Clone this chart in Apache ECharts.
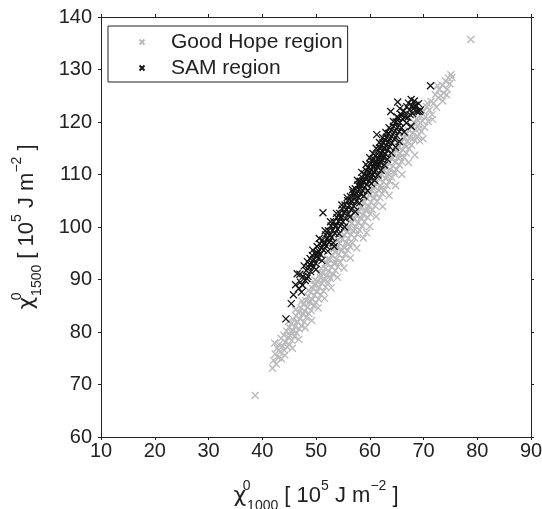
<!DOCTYPE html>
<html>
<head>
<meta charset="utf-8">
<script src="https://cdn.jsdelivr.net/npm/echarts@6/dist/echarts.min.js"></script>
<style>
html,body{margin:0;padding:0;background:#fff;}
#chart{width:542px;height:509px;}
</style>
</head>
<body>
<div id="chart"></div>
<script>
// ---- data ----
const seriesNames = ['Good Hope region', 'SAM region'];
const xRange = [10, 90, 10];
const yRange = [60, 140, 10];

const goodHope = [
[41.9,73.1],[42.1,74.6],[42.3,77.9],[42.4,75.8],[42.6,73.9],[42.8,76.9],[43.0,75.1],[43.1,77.6],[43.3,76.2],[43.5,78.8],[43.6,74.9],[43.8,77.3],[44.0,79.4],[44.1,76.5],[44.3,78.1],[44.5,80.2],[44.6,77.2],[44.8,79.0],
[45.0,80.9],[45.1,77.6],[45.2,79.3],[45.4,81.6],[45.5,78.4],[45.7,80.3],[45.8,82.4],[46.0,79.1],[46.1,81.0],[46.3,83.1],[46.4,79.8],[46.6,81.9],[46.7,83.7],[46.9,80.6],[47.0,82.5],[47.2,84.6],[47.3,81.2],[47.5,83.4],[47.6,85.3],[47.8,81.9],[47.9,84.0],[48.1,86.0],[48.2,82.8],[48.4,84.7],[48.5,86.8],[48.7,83.5],[48.8,85.6],[49.0,87.5],[49.1,84.1],[49.3,86.2],[49.4,88.3],[49.6,85.0],[49.7,87.0],[49.9,89.1],[50.0,85.6],[50.2,87.6],[50.3,89.6],[50.5,86.3],[50.6,88.5],[50.8,90.4],[50.9,87.1],
[51.1,89.3],[51.2,91.2],[51.4,87.8],[51.5,90.1],[51.7,92.0],[51.8,88.6],[52.0,90.7],[52.1,92.9],[52.3,89.4],[52.4,91.6],[52.6,93.8],[52.7,90.2],[52.9,92.4],[53.0,94.5],[53.2,91.0],[53.3,93.1],[53.5,95.3],[53.6,91.7],[53.8,93.9],[53.9,96.0],[54.1,92.4],[54.2,94.8],[54.4,96.9],[54.5,93.3],[54.7,95.5],[54.8,97.6],[55.0,94.0],[55.1,96.2],[55.3,98.4],[55.4,94.8],[55.6,97.1],[55.7,99.1],[55.9,95.6],[56.0,97.8],[56.2,99.9],[56.3,96.3],[56.5,98.6],[56.6,100.7],[56.8,97.0],[56.9,99.3],
[57.1,101.4],[57.2,97.9],[57.4,100.1],[57.5,102.2],[57.7,98.6],[57.8,100.8],[58.0,103.0],[58.1,99.4],[58.3,101.7],[58.4,103.8],[58.6,100.2],[58.7,102.4],[58.9,104.6],[59.0,101.0],[59.2,103.2],[59.4,98.9],[59.5,105.4],[59.6,101.8],[59.8,104.0],[59.9,106.1],[60.1,102.5],[60.2,104.7],[60.4,106.9],[60.5,103.3],[60.7,105.5],[60.8,107.7],[61.0,104.0],[61.1,106.3],[61.3,108.4],[61.4,104.9],[61.6,107.0],[61.7,109.2],[61.9,105.6],[62.0,107.8],[62.2,110.0],[62.3,106.4],
[62.5,108.6],[62.6,110.7],[62.8,107.1],[62.9,109.3],[63.1,111.5],[63.2,107.9],[63.4,110.1],[63.5,112.2],[63.7,108.7],[63.8,110.9],[64.0,113.0],[64.1,109.4],[64.3,111.6],[64.4,113.8],[64.6,110.2],[64.7,112.4],[64.9,114.6],[65.0,111.0],[65.2,113.2],[65.3,115.3],[65.5,111.8],[65.6,114.0],[65.8,116.1],[65.9,112.5],[66.1,114.7],[66.2,116.9],[66.4,113.3],[66.5,115.5],[66.7,117.6],[66.8,114.1],[67.0,116.3],
[67.2,118.4],[67.3,114.9],[67.5,117.0],[67.7,119.1],[67.8,115.6],[68.0,117.9],[68.2,119.9],[68.4,116.5],[68.5,118.6],[68.7,120.6],[68.9,117.3],[69.1,119.5],[69.3,116.4],[69.4,121.3],[69.6,118.2],[69.8,120.2],[70.0,122.0],[70.2,119.0],[70.4,121.0],[70.6,122.9],[70.9,120.1],[71.1,122.3],[71.4,123.9],[71.6,121.4],[71.9,123.6],[72.2,125.2],[72.4,122.8],[72.7,124.6],[72.9,126.2],[73.2,125.0],[73.5,127.0],[73.8,125.5],[74.1,127.8],[74.3,125.2],[74.6,128.4],[74.9,127.3],[75.1,129.0],
[44.2,75.6],[44.9,82.0],[45.6,76.9],[46.2,84.3],[46.8,78.6],[47.4,85.9],[48.0,80.8],[48.6,87.9],[49.2,82.2],[49.8,89.9],[50.4,84.6],[51.0,92.1],[51.6,86.4],[52.2,93.9],[52.8,88.4],[53.4,95.9],[54.0,90.4],[54.6,98.0],[55.2,92.2],[55.8,99.8],[56.4,94.1],[57.0,101.8],[57.6,96.0],[58.2,103.6],[58.8,97.9],[59.4,105.6],[60.0,100.1],[60.6,107.4],[61.2,102.0],[61.8,109.3],[62.4,103.9],[63.0,111.3],[63.6,106.0],[64.2,113.2],[64.8,107.9],[65.4,115.2],[66.0,110.0],[66.6,117.0],[67.2,112.3],[67.8,118.9],[68.4,113.7],[69.0,120.3],[69.9,116.8],[70.7,123.6],[71.7,120.5],[72.6,126.9],[73.6,124.0],[74.4,126.3],[75.3,128.5],
[45.3,80.1],[46.5,82.0],[47.7,83.5],[48.9,85.9],[50.1,87.7],[51.3,89.9],[52.5,90.6],[53.7,93.2],[54.9,95.6],[56.1,96.8],[57.3,99.5],[58.5,101.6],[59.7,103.3],[60.9,105.6],[62.1,107.3],[63.3,109.6],[64.5,110.6],[65.7,113.3],[66.9,115.4],[68.1,116.9],[69.2,118.7],
[53.0,95.9],[54.1,97.6],[55.2,99.6],[56.3,101.1],[57.4,103.1],[58.5,104.9],[59.6,106.6],[60.7,108.5],[61.6,110.0],[62.6,111.6],[49.6,89.0],[50.7,91.0],[51.9,93.3],
[38.7,67.9],[78.8,135.7]
];

const samRegion = [
[44.4,82.5],[45.4,85.4],[45.8,87.1],[46.5,91.1],[46.8,88.3],[47.1,89.5],[47.3,87.6],[47.6,90.6],[47.8,92.6],[48.0,89.8],[48.2,91.7],[48.4,93.4],[48.5,90.6],[48.7,92.3],[48.9,94.0],[49.0,91.5],
[49.2,93.1],[49.3,94.6],[49.5,92.4],[49.6,93.8],[49.8,95.0],[49.9,93.1],[50.1,94.5],[50.2,96.3],[50.4,94.0],[50.5,95.4],[50.7,96.8],[50.8,94.8],[51.0,96.0],[51.2,97.5],[51.3,102.7],[51.4,95.6],[51.6,97.0],[51.8,98.5],[51.9,96.4],[52.1,97.8],[52.3,99.3],[52.4,97.1],[52.6,98.5],[52.8,100.2],[52.9,98.0],
[53.1,99.4],[53.3,101.0],[53.4,96.3],[53.5,98.8],[53.7,100.3],[53.9,101.8],[54.0,99.6],[54.2,101.1],[54.4,102.6],[54.5,100.2],[54.7,101.9],[54.9,103.4],[55.0,101.0],[55.2,102.7],[55.4,104.2],[55.5,101.6],[55.7,103.3],[55.9,105.0],[56.0,102.5],[56.2,104.1],[56.4,105.8],[56.5,103.3],[56.7,104.9],[56.9,106.6],[57.0,104.0],
[57.2,105.6],[57.3,107.3],[57.5,104.9],[57.6,106.4],[57.8,108.0],[57.9,105.6],[58.0,107.1],[58.2,108.7],[58.3,106.3],[58.4,107.9],[58.6,109.4],[58.7,106.9],[58.8,108.5],[59.0,110.1],[59.1,107.6],[59.2,109.2],[59.4,110.7],[59.5,108.1],[59.6,109.8],[59.7,111.3],[59.9,108.8],[60.0,110.4],[60.1,112.0],[60.2,109.3],[60.3,110.9],[60.4,112.5],[60.5,109.9],[60.6,111.5],
[60.7,113.0],[60.8,110.4],[60.9,112.0],[61.0,113.6],[61.1,110.9],[61.2,112.5],[61.3,117.6],[61.4,111.4],[61.5,113.0],[61.6,114.6],[61.7,111.9],[61.8,113.5],[61.9,115.1],[62.0,112.3],[62.1,114.0],[62.2,115.6],[62.3,112.8],[62.4,114.4],[62.5,116.1],[62.6,113.3],[62.7,114.9],[62.8,116.6],[62.9,113.9],[63.0,115.5],
[63.1,117.1],[63.3,114.6],[63.4,116.2],[63.5,117.8],[63.7,115.3],[63.8,116.9],[63.9,122.0],[64.0,118.5],[64.1,116.0],[64.3,117.6],[64.4,119.2],[64.6,116.7],[64.7,118.3],[64.9,120.0],[65.0,117.4],[65.2,119.0],[65.3,120.7],[65.5,118.2],[65.6,119.9],[65.8,121.4],[65.9,118.9],[66.1,120.6],
[65.2,123.8],[65.6,122.6],[66.3,122.1],[66.6,121.0],[66.9,122.9],[67.2,123.6],[67.4,122.3],[67.7,124.3],[67.9,123.1],[68.1,122.5],[68.3,124.0],[68.6,123.2],[68.8,122.0],[69.1,123.5],[69.4,122.3],[67.7,119.2],[71.3,126.9],
[49.4,95.6],[50.0,91.9],[50.6,97.8],[51.1,93.6],[51.7,99.3],[52.2,95.4],[52.7,101.0],[53.2,97.0],[53.8,102.6],[54.3,98.7],[54.8,104.2],[55.3,100.0],[55.8,105.6],[56.3,101.9],[56.8,107.1],[57.3,102.9],[57.7,108.9],[58.1,104.6],[58.5,110.4],[58.9,105.9],[59.3,111.9],[59.6,106.9],[60.0,113.2],[60.3,108.3],[60.6,114.0],[60.9,108.9],[61.2,115.0],[61.5,109.9],[61.8,116.1],[62.1,110.8],[62.4,117.0],[62.7,111.8],[63.0,118.0],[63.3,112.9],[63.6,118.9],[64.0,114.1],[64.4,120.1],[64.8,115.2],[65.1,121.0],[65.5,116.3],[66.0,121.3],[66.4,118.1],[66.8,119.8],[67.1,120.9],[67.5,121.4],[68.0,121.6],[68.5,122.9],[69.2,122.0],
[58.3,108.0],[58.9,108.6],[59.4,109.5],[59.9,110.5],[60.4,110.1],[60.8,111.6],[61.3,112.0],[61.7,113.0],[62.2,113.5],[62.7,115.0],[57.1,106.1],[56.6,105.0],[55.6,103.4],[54.6,101.7],[53.6,100.1],[52.5,98.4],[51.5,96.7],[50.3,95.0],
[46.2,89.0],[47.0,91.0],[47.5,88.9],[48.3,90.2],[48.8,92.9]
];

// ---- chart ----
const FONT = "'Liberation Sans', Arial, Helvetica, sans-serif";
const AXIS_COLOR = '#222';
const CROSS = 'path://M0,0L10,10M10,0L0,10';
const LEGEND_CROSS = 'path://M-43,0M53,10M0,0L10,10M10,0L0,10';
const nameRich = {
  n:   {fontFamily: FONT, fontSize: 22, lineHeight: 34, color: '#222', verticalAlign: 'middle'},
  chi: {fontFamily: "'DejaVu Sans', sans-serif", fontSize: 22, lineHeight: 34, color: '#222', verticalAlign: 'middle'},
  sup: {fontFamily: FONT, fontSize: 14, lineHeight: 16, color: '#222', verticalAlign: 'top'},
  sup0:{fontFamily: FONT, fontSize: 14, lineHeight: 16, color: '#222', verticalAlign: 'top', width: 1},
  sub: {fontFamily: FONT, fontSize: 14, lineHeight: 16, color: '#222', verticalAlign: 'bottom'}
};
function axisBase(extra) {
  return Object.assign({
    type: 'value',
    splitLine: {show: false},
    axisLine: {show: true, onZero: false, lineStyle: {color: AXIS_COLOR, width: 1}},
    axisTick: {show: true, inside: false, length: 3, lineStyle: {color: AXIS_COLOR, width: 1}},
    axisLabel: {show: true, color: '#222', fontFamily: FONT, fontSize: 20}
  }, extra);
}

const chart = echarts.init(document.getElementById('chart'), null, {renderer: 'canvas'});
chart.setOption({
  animation: false,
  backgroundColor: '#fff',
  grid: {left: 101, right: 11, top: 17, bottom: 72, containLabel: false, outerBoundsMode: 'none'},
  legend: {
    data: [{name: seriesNames[0], icon: LEGEND_CROSS}, {name: seriesNames[1], icon: LEGEND_CROSS}],
    orient: 'vertical',
    left: 108, top: 26,
    padding: [5, 5, 3, 9],
    itemGap: 4,
    itemWidth: 48,
    itemHeight: 5,
    borderColor: '#222',
    borderWidth: 1,
    backgroundColor: '#fff',
    textStyle: {fontFamily: FONT, fontSize: 21, color: '#222', lineHeight: 22},
    selectedMode: false
  },
  xAxis: [
    axisBase({min: xRange[0], max: xRange[1], interval: xRange[2], position: 'bottom',
      name: '{chi|χ}{sup0|0}{sub|1000}{n| [ 10}{sup|5}{n| J m}{sup|−2}{n| ]}',
      nameLocation: 'middle', nameGap: 42,
      nameTextStyle: {rich: nameRich},
      axisLabel: {show: true, color: '#222', fontFamily: FONT, fontSize: 20, margin: 4}}),
    axisBase({min: xRange[0], max: xRange[1], interval: xRange[2], position: 'top',
      axisLabel: {show: false}})
  ],
  yAxis: [
    axisBase({min: yRange[0], max: yRange[1], interval: yRange[2], position: 'left',
      name: '{chi|χ}{sup0|0}{sub|1500}{n| [ 10}{sup|5}{n| J m}{sup|−2}{n| ]}',
      nameLocation: 'middle', nameGap: 57, nameRotate: 90,
      nameTextStyle: {rich: nameRich},
      axisLabel: {show: true, color: '#222', fontFamily: FONT, fontSize: 20, margin: 9}}),
    axisBase({min: yRange[0], max: yRange[1], interval: yRange[2], position: 'right',
      axisLabel: {show: false}})
  ],
  series: [
    {
      name: seriesNames[0], type: 'scatter', xAxisIndex: 0, yAxisIndex: 0,
      data: goodHope, symbol: CROSS, symbolSize: 7, symbolKeepAspect: true,
      itemStyle: {color: 'transparent', borderColor: '#b9b9bc', borderWidth: 1.3, opacity: 1},
      emphasis: {disabled: true}
    },
    {
      name: seriesNames[1], type: 'scatter', xAxisIndex: 0, yAxisIndex: 0,
      data: samRegion, symbol: CROSS, symbolSize: 7, symbolKeepAspect: true,
      itemStyle: {color: 'transparent', borderColor: '#151515', borderWidth: 1.3, opacity: 1},
      emphasis: {disabled: true}
    }
  ]
});
</script>
</body>
</html>
